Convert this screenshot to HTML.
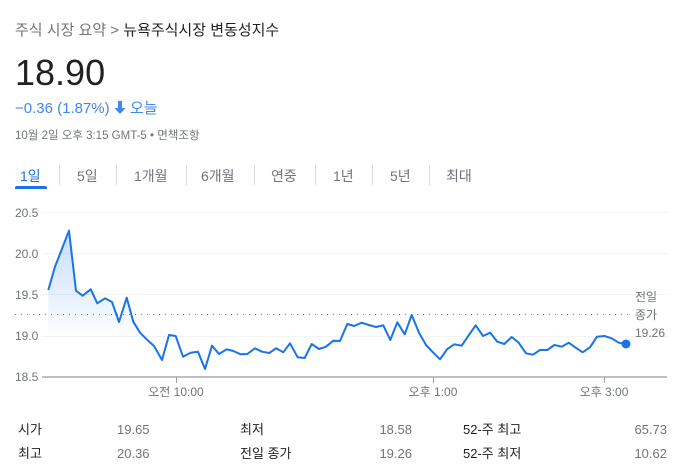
<!DOCTYPE html>
<html><head><meta charset="utf-8"><style>
body{margin:0;background:#fff;width:697px;height:472px;overflow:hidden;font-family:"Liberation Sans","Noto Sans CJK KR",sans-serif;position:relative}
.a{position:absolute;white-space:nowrap}
</style></head><body>
<div class="a" style="left:15px;top:19px;font-size:15px;color:#70757a">주식 시장 요약 &gt; <span style="color:#202124">뉴욕주식시장 변동성지수</span></div>
<div class="a" style="left:15px;top:52px;font-size:36px;color:#202124">18.90</div>
<div class="a" style="left:15px;top:97px;font-size:15px;color:#4285f4">−0.36 (1.87%) <svg width="12" height="13" style="vertical-align:-1px"><path d="M4 0h4v7h3.5L6 13 0.5 7H4z" fill="#4285f4"/></svg> 오늘</div>
<div class="a" style="left:15px;top:127px;font-size:11.5px;color:#70757a">10월 2일 오후 3:15 GMT-5 • 면책조항</div>
<div class="a" style="left:20px;top:166px;font-size:14px;color:#1a73e8">1일</div>
<div class="a" style="left:77px;top:166px;font-size:14px;color:#70757a">5일</div>
<div class="a" style="left:134px;top:166px;font-size:14px;color:#70757a">1개월</div>
<div class="a" style="left:201px;top:166px;font-size:14px;color:#70757a">6개월</div>
<div class="a" style="left:271px;top:166px;font-size:14px;color:#70757a">연중</div>
<div class="a" style="left:333px;top:166px;font-size:14px;color:#70757a">1년</div>
<div class="a" style="left:390px;top:166px;font-size:14px;color:#70757a">5년</div>
<div class="a" style="left:446px;top:166px;font-size:14px;color:#70757a">최대</div>
<div class="a" style="left:15px;top:186px;width:32px;height:3px;background:#1a73e8;border-radius:2px 2px 0 0"></div>
<svg class="a" style="left:0;top:0" width="697" height="472">
<g stroke="#dadce0" stroke-width="1"><line x1="59.5" y1="165" x2="59.5" y2="185"/><line x1="116.5" y1="165" x2="116.5" y2="185"/><line x1="186.5" y1="165" x2="186.5" y2="185"/><line x1="254.5" y1="165" x2="254.5" y2="185"/><line x1="315.5" y1="165" x2="315.5" y2="185"/><line x1="372.5" y1="165" x2="372.5" y2="185"/><line x1="429.5" y1="165" x2="429.5" y2="185"/></g>
<defs><linearGradient id="g" x1="0" y1="230" x2="0" y2="340" gradientUnits="userSpaceOnUse"><stop offset="0" stop-color="#1a73e8" stop-opacity="0.25"/><stop offset="1" stop-color="#1a73e8" stop-opacity="0"/></linearGradient></defs>
<g stroke="#f1f3f4" stroke-width="1"><line x1="42" y1="212.5" x2="667" y2="212.5"/><line x1="42" y1="253.5" x2="667" y2="253.5"/><line x1="42" y1="294.5" x2="667" y2="294.5"/><line x1="42" y1="336.5" x2="667" y2="336.5"/></g>
<g font-size="12" fill="#70757a"><text x="15" y="217">20.5</text><text x="15" y="258">20.0</text><text x="15" y="299">19.5</text><text x="15" y="340">19.0</text><text x="15" y="381">18.5</text></g>
<polygon fill="url(#g)" points="48.3,290 55,266.7 69,230.7 76,290.7 82.7,295.7 90.7,289.3 97.3,303.3 105,298.3 112,302 119,322 126.7,297.7 133.3,321.7 140,332.7 146.7,339.3 146.7,345 48.3,345"/>
<line x1="15" y1="314.5" x2="630" y2="314.5" stroke="#80868b" stroke-dasharray="1,5"/>
<polyline fill="none" stroke="#1a73e8" stroke-width="2" stroke-linejoin="round" points="48.3,290 55,266.7 69,230.7 76,290.7 82.7,295.7 90.7,289.3 97.3,303.3 105,298.3 112,302 119,322 126.7,297.7 133.3,321.7 140,332.7 146.7,339.3 154,346 162,360 169,335 175.7,336 183,356.7 190.7,352.7 198,351.7 205,369 212,345.7 219,354 226.7,349.3 233.3,351 240.7,354.3 247.3,354 255,348.3 262,351.7 269.3,353 276,348.3 283.3,352.3 290,343.3 297.7,357.3 304.7,358 311.7,344 319,349 326,346.7 333.3,340.7 340,341 347.3,324 354.3,326 361.7,322.7 368.7,325 376,327 383.3,325.3 390.3,340 397.3,322.3 404.7,334.3 411.7,315 419,332.7 426,345 433.3,352.7 440,359.3 447.3,349 454.3,344.3 461.7,345.7 468.7,335.3 475.7,325.3 483,336 490.3,332.7 497.3,341.7 504.3,344 511.7,337 518.7,342.7 526,353.3 533,354.7 540,350 547.3,350 554.3,345 561.7,346.7 568.7,342.7 575.7,347.7 582.7,352.3 590,347.3 597,336.7 604.3,336 611.7,338.3 618.7,342.7 626,344"/>
<circle cx="626" cy="344" r="4.5" fill="#1a73e8"/>
<line x1="42" y1="377" x2="667" y2="377" stroke="#bdc1c6" stroke-width="2"/>
<g stroke="#9aa0a6"><line x1="176.5" y1="377" x2="176.5" y2="383"/><line x1="433.5" y1="377" x2="433.5" y2="383"/><line x1="604.5" y1="377" x2="604.5" y2="383"/></g>
<g font-size="12" fill="#70757a" text-anchor="middle"><text x="176" y="396">오전 10:00</text><text x="433" y="396">오후 1:00</text><text x="604" y="396">오후 3:00</text></g>
<g font-size="12" fill="#70757a"><text x="635" y="301">전일</text><text x="635" y="319">종가</text><text x="635" y="337">19.26</text></g>
<g font-size="13" fill="#202124"><text x="18" y="434">시가</text><text x="18" y="458">최고</text><text x="240" y="434">최저</text><text x="240" y="458">전일 종가</text><text x="463" y="434">52-주 최고</text><text x="463" y="458">52-주 최저</text></g>
<g font-size="13" fill="#70757a"><text x="117" y="434">19.65</text><text x="117" y="458">20.36</text><text x="412" y="434" text-anchor="end">18.58</text><text x="412" y="458" text-anchor="end">19.26</text><text x="667" y="434" text-anchor="end">65.73</text><text x="667" y="458" text-anchor="end">10.62</text></g>
</svg>
</body></html>
